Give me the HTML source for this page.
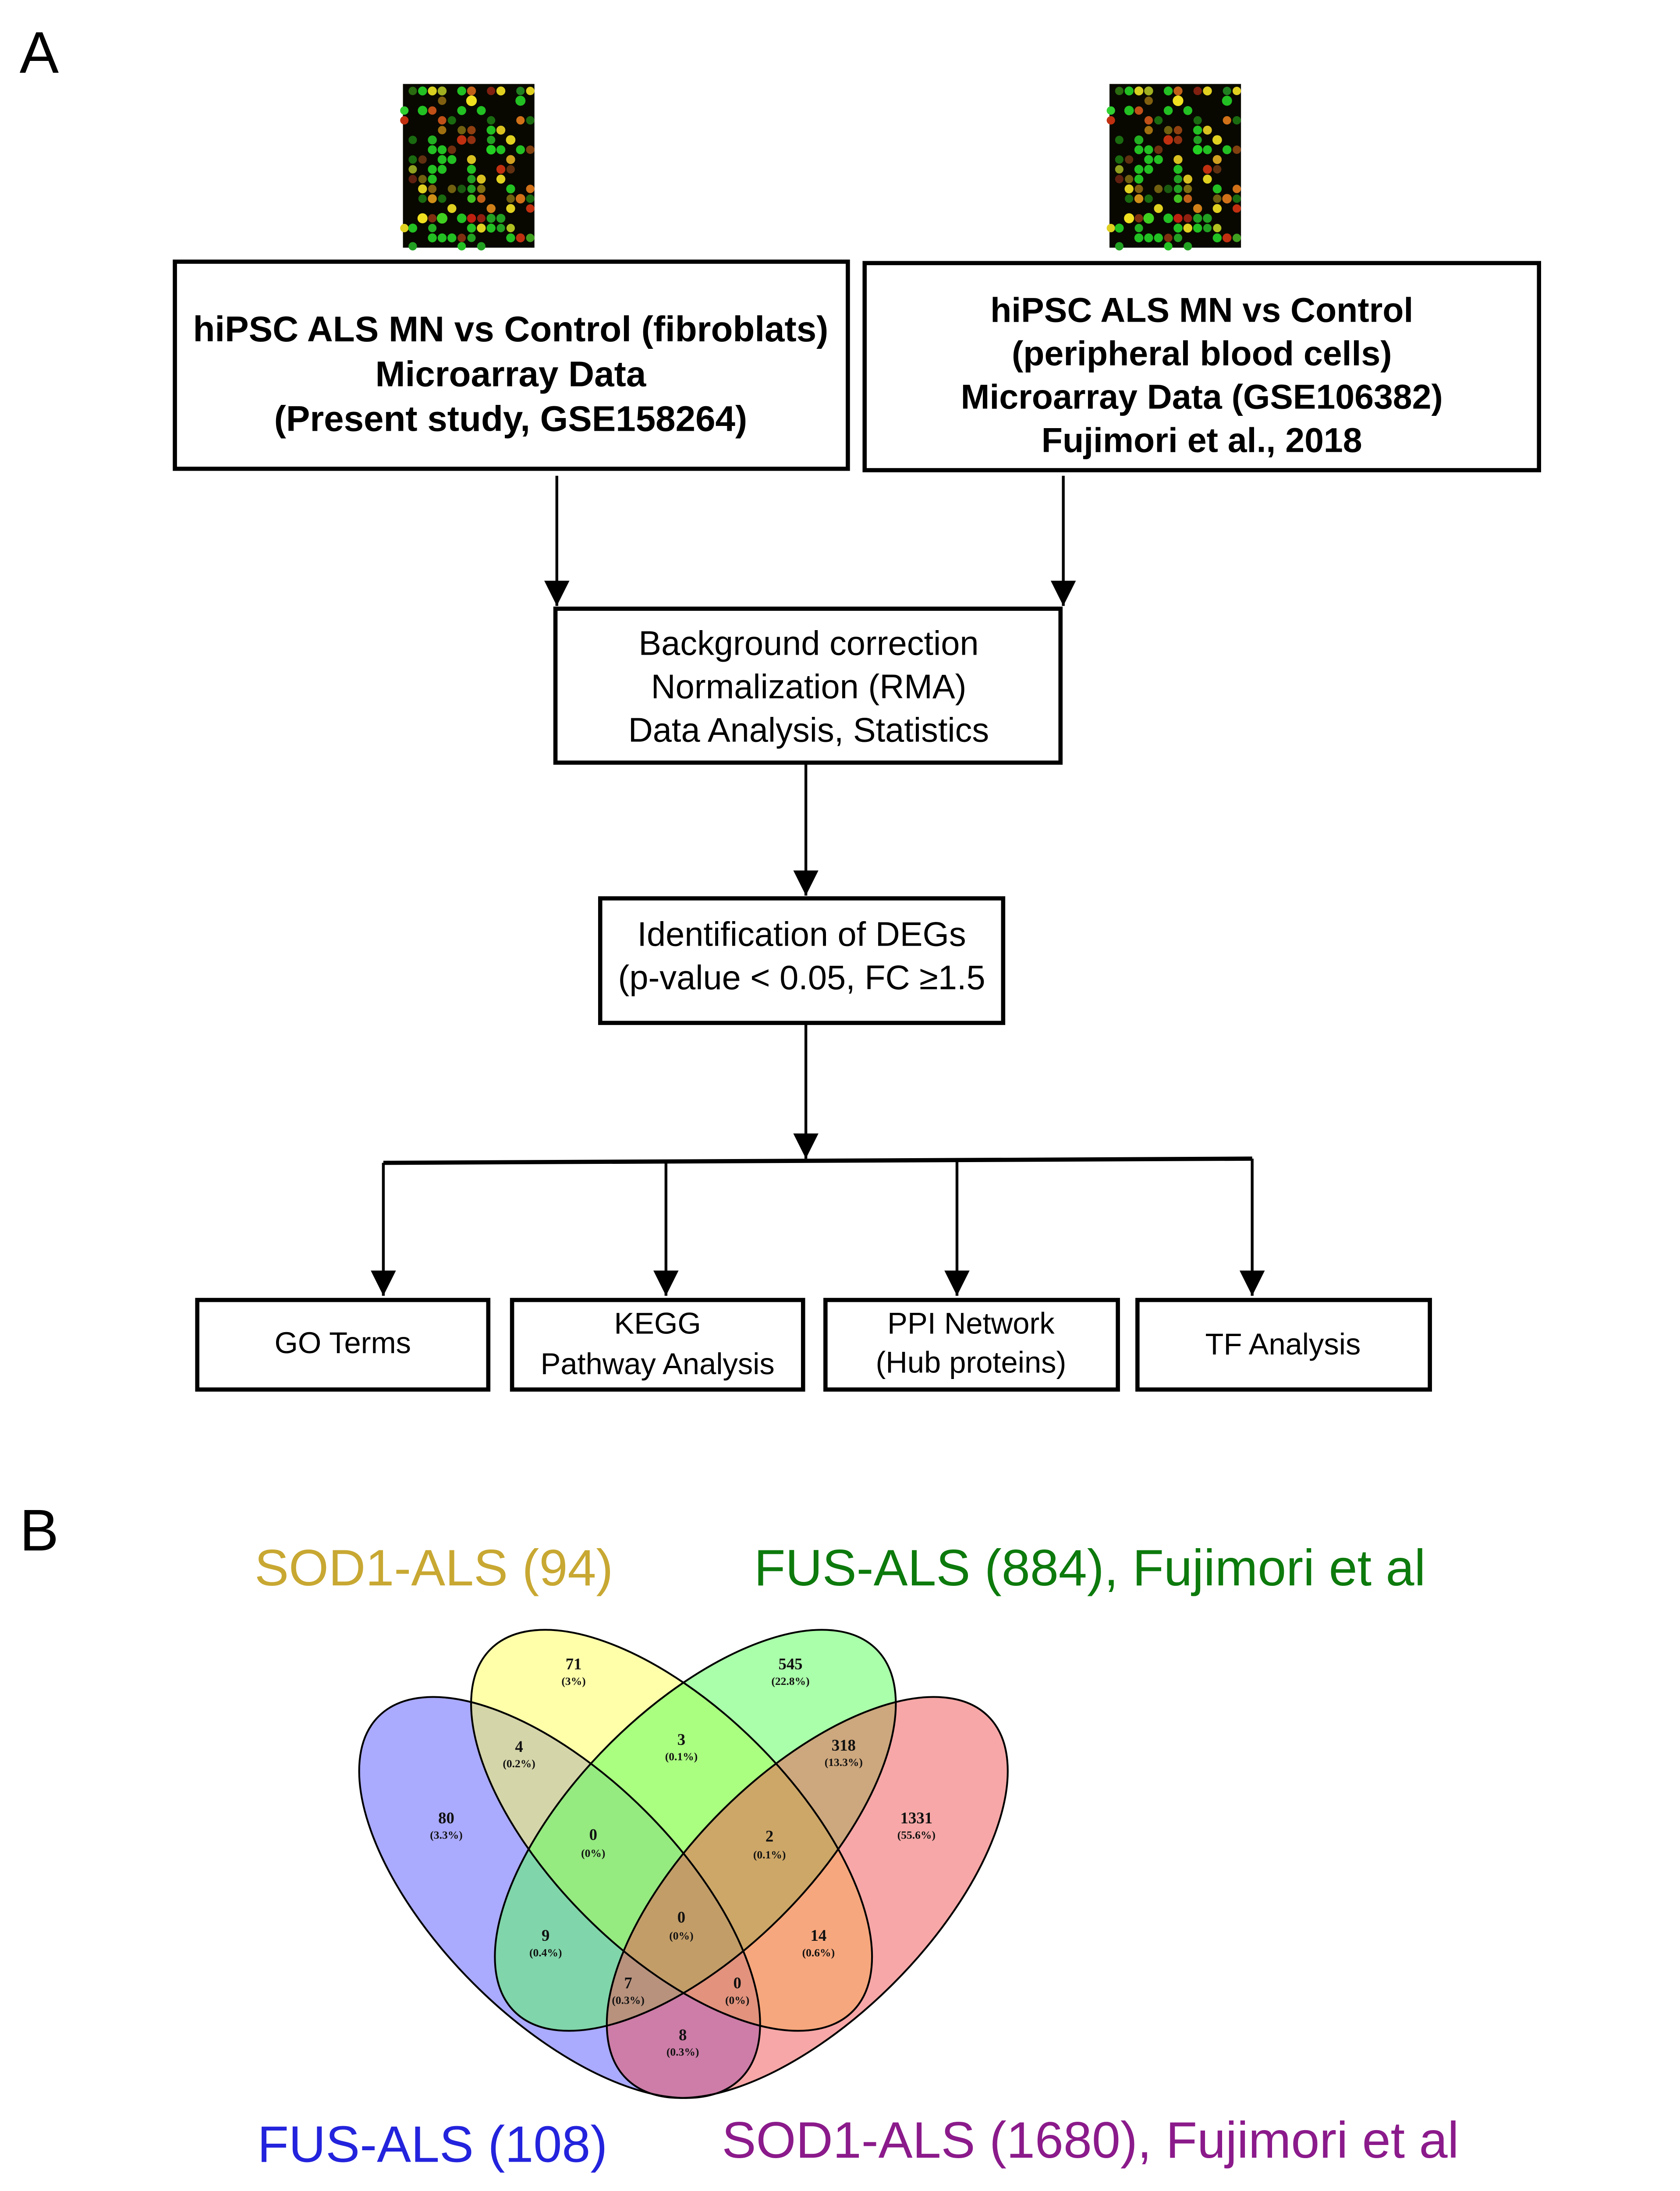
<!DOCTYPE html>
<html><head><meta charset="utf-8"><style>
html,body{margin:0;padding:0;background:#fff;overflow:hidden;}
svg{display:block;width:3608px;height:5011px;}
</style></head><body>
<svg viewBox="0 0 1130 1569.2" preserveAspectRatio="none" xmlns="http://www.w3.org/2000/svg">
<defs>
<marker id="ah2" viewBox="0 0 10 10" markerWidth="18" markerHeight="26" refX="10" refY="5" orient="auto" markerUnits="userSpaceOnUse"><path d="M0,0 L10,5 L0,10 Z" fill="#000"/></marker>
<g id="ma">
<rect x="0" y="0" width="94" height="117" fill="#080800"/>
<g>
<circle cx="7" cy="5" r="3" fill="#2a6a10"/><circle cx="14" cy="5" r="3.2" fill="#22c022"/><circle cx="21" cy="5" r="3.2" fill="#d8d020"/><circle cx="28" cy="5" r="3.2" fill="#a0b020"/><circle cx="42" cy="5" r="3.2" fill="#22c022"/><circle cx="49" cy="5" r="3.2" fill="#c06018"/><circle cx="63" cy="5" r="3" fill="#802010"/><circle cx="70" cy="5" r="3.2" fill="#e0d020"/><circle cx="84" cy="5" r="3" fill="#208020"/><circle cx="91" cy="5" r="3" fill="#e0d020"/>
<circle cx="28" cy="12" r="3" fill="#806010"/><circle cx="49" cy="12" r="3.8" fill="#f0e020"/><circle cx="84" cy="12" r="3.6" fill="#22c022"/>
<circle cx="1" cy="19" r="3" fill="#30d030"/><circle cx="14" cy="19" r="3.4" fill="#22c022"/><circle cx="21" cy="19" r="3" fill="#c05018"/><circle cx="42" cy="19" r="3.2" fill="#22c022"/><circle cx="56" cy="19" r="3.2" fill="#22c022"/>
<circle cx="1" cy="26" r="3" fill="#c03010"/><circle cx="28" cy="26" r="3" fill="#c05018"/><circle cx="35" cy="26" r="3" fill="#1a6a10"/><circle cx="63" cy="26" r="3" fill="#1a6a10"/><circle cx="84" cy="26" r="3" fill="#d07018"/><circle cx="91" cy="26" r="3" fill="#1a6a10"/>
<circle cx="28" cy="33" r="3" fill="#a07010"/><circle cx="42" cy="33" r="3" fill="#706010"/><circle cx="49" cy="33" r="3" fill="#904010"/><circle cx="63" cy="33" r="3.2" fill="#22c022"/><circle cx="70" cy="33" r="3.2" fill="#d8c020"/>
<circle cx="7" cy="40" r="3" fill="#1a6a10"/><circle cx="21" cy="40" r="3.2" fill="#22b022"/><circle cx="42" cy="40" r="3.4" fill="#c03010"/><circle cx="49" cy="40" r="3" fill="#903010"/><circle cx="63" cy="40" r="3" fill="#22a022"/><circle cx="77" cy="40" r="3.4" fill="#e0d020"/>
<circle cx="21" cy="47" r="3.2" fill="#22c022"/><circle cx="28" cy="47" r="3.2" fill="#22c022"/><circle cx="35" cy="47" r="3" fill="#703010"/><circle cx="63" cy="47" r="3.4" fill="#22d022"/><circle cx="70" cy="47" r="3.2" fill="#22c022"/><circle cx="84" cy="47" r="3.2" fill="#22c022"/><circle cx="91" cy="47" r="3" fill="#804010"/>
<circle cx="7" cy="54" r="3" fill="#1a6a10"/><circle cx="14" cy="54" r="3" fill="#603010"/><circle cx="28" cy="54" r="3.2" fill="#22c022"/><circle cx="35" cy="54" r="3.2" fill="#22c022"/><circle cx="49" cy="54" r="3.2" fill="#d8c020"/><circle cx="77" cy="54" r="3.2" fill="#d0a020"/>
<circle cx="7" cy="61" r="3" fill="#90a020"/><circle cx="21" cy="61" r="3.2" fill="#22c022"/><circle cx="28" cy="61" r="3.2" fill="#22c022"/><circle cx="49" cy="61" r="3.2" fill="#22c022"/><circle cx="70" cy="61" r="3.2" fill="#c03010"/><circle cx="77" cy="61" r="3" fill="#603010"/>
<circle cx="7" cy="68" r="3" fill="#602010"/><circle cx="14" cy="68" r="3" fill="#706010"/><circle cx="21" cy="68" r="3.2" fill="#22c022"/><circle cx="49" cy="68" r="3" fill="#22a022"/><circle cx="56" cy="68" r="3.2" fill="#d8c020"/><circle cx="70" cy="68" r="3.2" fill="#e0d020"/>
<circle cx="14" cy="75" r="3.2" fill="#e0d020"/><circle cx="21" cy="75" r="3" fill="#806010"/><circle cx="35" cy="75" r="3" fill="#706010"/><circle cx="42" cy="75" r="3" fill="#1a5a10"/><circle cx="49" cy="75" r="3" fill="#22a022"/><circle cx="56" cy="75" r="3" fill="#807010"/><circle cx="77" cy="75" r="3.2" fill="#22c022"/><circle cx="91" cy="75" r="3" fill="#d07018"/>
<circle cx="14" cy="82" r="3" fill="#1a6a10"/><circle cx="21" cy="82" r="3.2" fill="#d09018"/><circle cx="28" cy="82" r="3" fill="#1a6a10"/><circle cx="49" cy="82" r="3" fill="#40c020"/><circle cx="56" cy="82" r="3" fill="#c06018"/><circle cx="77" cy="82" r="3" fill="#706010"/><circle cx="84" cy="82" r="3.4" fill="#d07018"/><circle cx="91" cy="82" r="3" fill="#1a6a10"/>
<circle cx="35" cy="89" r="3.2" fill="#e0d020"/><circle cx="63" cy="89" r="3.2" fill="#d08018"/><circle cx="77" cy="89" r="3.2" fill="#e0d020"/><circle cx="91" cy="89" r="3" fill="#c03010"/>
<circle cx="14" cy="96" r="3.6" fill="#f0e020"/><circle cx="21" cy="96" r="3" fill="#803010"/><circle cx="28" cy="96" r="3.8" fill="#40d020"/><circle cx="42" cy="96" r="3.4" fill="#22c022"/><circle cx="49" cy="96" r="3.2" fill="#c02010"/><circle cx="56" cy="96" r="3" fill="#902010"/><circle cx="63" cy="96" r="3.2" fill="#22a022"/><circle cx="70" cy="96" r="3.2" fill="#22a022"/>
<circle cx="1" cy="103" r="3" fill="#e0d020"/><circle cx="7" cy="103" r="3.2" fill="#22c022"/><circle cx="21" cy="103" r="3" fill="#22b022"/><circle cx="49" cy="103" r="3.2" fill="#22c022"/><circle cx="56" cy="103" r="3.2" fill="#e0d020"/><circle cx="63" cy="103" r="3.2" fill="#22c022"/><circle cx="70" cy="103" r="3" fill="#22a022"/><circle cx="77" cy="103" r="3" fill="#b0c020"/>
<circle cx="21" cy="110" r="3.2" fill="#22c022"/><circle cx="28" cy="110" r="3.2" fill="#22c022"/><circle cx="35" cy="110" r="3.2" fill="#22c022"/><circle cx="42" cy="110" r="3" fill="#803010"/><circle cx="49" cy="110" r="3" fill="#22a022"/><circle cx="77" cy="110" r="3.2" fill="#22c022"/><circle cx="84" cy="110" r="3.2" fill="#c03010"/><circle cx="91" cy="110" r="3" fill="#40a020"/>
<circle cx="7" cy="116" r="3" fill="#22a022"/><circle cx="42" cy="116" r="3" fill="#22c022"/><circle cx="56" cy="116" r="3" fill="#22a022"/>
</g>
</g>
</defs>

<rect x="0" y="0" width="1130" height="1569.2" fill="#fff"/>

<text x="14" y="52" font-family="Liberation Sans, sans-serif" font-size="42" fill="#000">A</text>

<use href="#ma" x="288" y="60"/>
<use href="#ma" x="793" y="60"/>

<g fill="none" stroke="#000" stroke-width="3">
<rect x="125" y="187" width="481" height="148"/>
<rect x="618" y="188" width="482" height="148"/>
<rect x="397" y="435" width="361" height="110"/>
<rect x="429" y="642" width="288" height="89"/>
<rect x="141" y="929" width="208" height="64"/>
<rect x="366" y="929" width="208" height="64"/>
<rect x="590" y="929" width="209" height="64"/>
<rect x="813" y="929" width="209" height="64"/>
</g>

<g stroke="#000" stroke-width="2" fill="none">
<line x1="398" y1="340" x2="398" y2="433" marker-end="url(#ah2)"/>
<line x1="760" y1="340" x2="760" y2="433" marker-end="url(#ah2)"/>
<line x1="576" y1="545" x2="576" y2="640" marker-end="url(#ah2)"/>
<line x1="576" y1="731" x2="576" y2="828" marker-end="url(#ah2)"/>
<line x1="274" y1="831" x2="895" y2="828" stroke-width="3"/>
<line x1="274" y1="831" x2="274" y2="926" marker-end="url(#ah2)"/>
<line x1="476" y1="830" x2="476" y2="926" marker-end="url(#ah2)"/>
<line x1="684" y1="829" x2="684" y2="926" marker-end="url(#ah2)"/>
<line x1="895" y1="828" x2="895" y2="926" marker-end="url(#ah2)"/>
</g>

<g font-family="Liberation Sans, sans-serif" font-weight="bold" font-size="25.6" text-anchor="middle" fill="#000">
<text x="365" y="244">hiPSC ALS MN vs Control (fibroblats)</text>
<text x="365" y="276">Microarray Data</text>
<text x="365" y="308">(Present study, GSE158264)</text>
</g>
<g font-family="Liberation Sans, sans-serif" font-weight="bold" font-size="24.7" text-anchor="middle" fill="#000">
<text x="859" y="230">hiPSC ALS MN vs Control</text>
<text x="859" y="261">(peripheral blood cells)</text>
<text x="859" y="292">Microarray Data (GSE106382)</text>
<text x="859" y="323">Fujimori et al., 2018</text>
</g>
<g font-family="Liberation Sans, sans-serif" font-size="24.3" text-anchor="middle" fill="#000">
<text x="578" y="468">Background correction</text>
<text x="578" y="499">Normalization (RMA)</text>
<text x="578" y="530">Data Analysis, Statistics</text>
<text x="573" y="676">Identification of DEGs</text>
<text x="573" y="707">(p-value &lt; 0.05, FC ≥1.5</text>
</g>
<g font-family="Liberation Sans, sans-serif" font-size="21.5" text-anchor="middle" fill="#000">
<text x="245" y="967">GO Terms</text>
<text x="470" y="953">KEGG</text>
<text x="470" y="982">Pathway Analysis</text>
<text x="694" y="953">PPI Network</text>
<text x="694" y="981">(Hub proteins)</text>
<text x="917" y="968">TF Analysis</text>
</g>

<text x="14" y="1108" font-family="Liberation Sans, sans-serif" font-size="42" fill="#000">B</text>

<g font-family="Liberation Sans, sans-serif" font-size="36.6">
<text x="182" y="1133" fill="#c8a832">SOD1-ALS (94)</text>
<text x="539" y="1133" fill="#0c7a0c">FUS-ALS (884), Fujimori et al</text>
<text x="184" y="1545" fill="#2323dd">FUS-ALS (108)</text>
<text x="516" y="1542" fill="#8b1a8b">SOD1-ALS (1680), Fujimori et al</text>
</g>

<g stroke="none">
<ellipse cx="400" cy="1356" rx="183" ry="87" transform="rotate(45 400 1356)" fill="#5555ff" fill-opacity="0.5"/>
<ellipse cx="480" cy="1308" rx="183" ry="87" transform="rotate(45 480 1308)" fill="#ffff55" fill-opacity="0.5"/>
<ellipse cx="497" cy="1308" rx="183" ry="87" transform="rotate(-45 497 1308)" fill="#55ff55" fill-opacity="0.5"/>
<ellipse cx="577" cy="1356" rx="183" ry="87" transform="rotate(-45 577 1356)" fill="#f05050" fill-opacity="0.5"/>
</g>
<g fill="none" stroke="#000" stroke-width="1.3">
<ellipse cx="400" cy="1356" rx="183" ry="87" transform="rotate(45 400 1356)"/>
<ellipse cx="577" cy="1356" rx="183" ry="87" transform="rotate(-45 577 1356)"/>
<ellipse cx="480" cy="1308" rx="183" ry="87" transform="rotate(45 480 1308)"/>
<ellipse cx="497" cy="1308" rx="183" ry="87" transform="rotate(-45 497 1308)"/>
</g>

<g font-family="Liberation Serif, serif" font-weight="bold" text-anchor="middle" fill="#111">
<g font-size="11.5">
<text x="410" y="1193">71</text>
<text x="565" y="1193">545</text>
<text x="371" y="1252">4</text>
<text x="487" y="1247">3</text>
<text x="603" y="1251">318</text>
<text x="319" y="1303">80</text>
<text x="424" y="1315">0</text>
<text x="550" y="1316">2</text>
<text x="655" y="1303">1331</text>
<text x="487" y="1374">0</text>
<text x="390" y="1387">9</text>
<text x="585" y="1387">14</text>
<text x="449" y="1421">7</text>
<text x="527" y="1421">0</text>
<text x="488" y="1458">8</text>
</g>
<g font-size="8">
<text x="410" y="1204">(3%)</text>
<text x="565" y="1204">(22.8%)</text>
<text x="371" y="1263">(0.2%)</text>
<text x="487" y="1258">(0.1%)</text>
<text x="603" y="1262">(13.3%)</text>
<text x="319" y="1314">(3.3%)</text>
<text x="424" y="1327">(0%)</text>
<text x="550" y="1328">(0.1%)</text>
<text x="655" y="1314">(55.6%)</text>
<text x="487" y="1386">(0%)</text>
<text x="390" y="1398">(0.4%)</text>
<text x="585" y="1398">(0.6%)</text>
<text x="449" y="1432">(0.3%)</text>
<text x="527" y="1432">(0%)</text>
<text x="488" y="1469">(0.3%)</text>
</g>
</g>
</svg>
</body></html>
